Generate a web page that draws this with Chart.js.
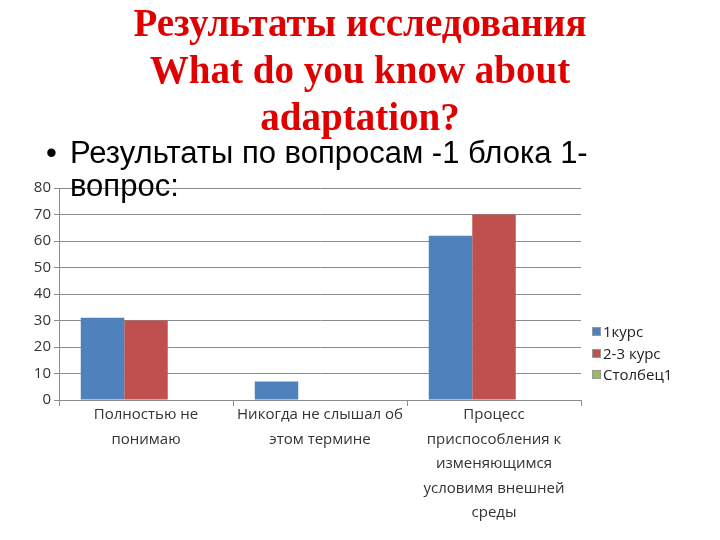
<!DOCTYPE html>
<html lang="ru">
<head>
    <meta charset="UTF-8">
    <title>Результаты исследования</title>
    <script src="https://cdn.jsdelivr.net/npm/chart.js"></script>
    <style>
        body { margin: 0; background: #fff; }
        .slide { position: relative; width: 720px; height: 540px; overflow: hidden; }
        #chart { position: absolute; left: 0; top: 0; }
        .title {
            position: absolute; left: 0; top: -1px; width: 720px; text-align: center;
            font-family: "Liberation Serif", serif; font-weight: bold; font-size: 39px;
            line-height: 47px; color: #e00000;
        }
        .bullet {
            position: absolute; left: 70px; top: 136px; width: 580px;
            font-family: "Liberation Sans", Arial, sans-serif; font-size: 31px; line-height: 33px; color: #000;
        }
        .bullet::before { content: "•"; position: absolute; left: -24px; }
        .legend {
            position: absolute; left: 592px; top: 321px;
            font-family: "Open Sans", sans-serif; font-size: 15px; color: #222; line-height: 21.5px;
        }
        .legend span.box {
            display: inline-block; width: 7px; height: 7px; margin-right: 2px; border: 1px solid #999;
            vertical-align: 1px;
        }
    </style>
</head>
<body>
<div class="slide">
    <canvas id="chart" width="720" height="540"></canvas>
    <div class="title">Результаты исследования<br>What do you know about<br>adaptation?</div>
    <div class="bullet">Результаты по вопросам -1 блока 1-вопрос:</div>
    <div class="legend" id="legend"></div>
</div>

<script>
    const categories = [
        ['Полностью не', 'понимаю'],
        ['Никогда не слышал об', 'этом термине'],
        ['Процесс', 'приспособления к', 'изменяющимся', 'условимя внешней', 'среды']
    ];
    const seriesNames = ['1курс', '2-3 курс', 'Столбец1'];
    const course1 = [31, 7, 62];
    const course23 = [30, 0, 70];
    const column1 = [null, null, null];
    const colors = ['#4f81bd', '#c0504d', '#9bbb59'];

    const values = [course1, course23, column1];

    const chart = new Chart(document.getElementById('chart'), {
        type: 'bar',
        data: {
            labels: categories,
            datasets: seriesNames.map((name, i) => ({
                label: name,
                data: values[i],
                backgroundColor: colors[i],
                categoryPercentage: 0.75,
                barPercentage: 1
            }))
        },
        options: {
            responsive: false,
            animation: false,
            layout: { padding: { left: 0, right: 139, top: 188, bottom: 0 } },
            plugins: { legend: { display: false }, tooltip: { enabled: false } },
            scales: {
                x: {
                    offset: true,
                    grid: { offset: true, drawOnChartArea: false, drawTicks: true, tickLength: 6, color: '#8c8c8c' },
                    border: { color: '#8c8c8c' },
                    ticks: {
                        maxRotation: 0, autoSkip: false, padding: -3, color: '#333',
                        font: { family: 'Open Sans', size: 15, lineHeight: 1.63 }
                    },
                    afterFit: (s) => { s.height = 140; }
                },
                y: {
                    min: 0, max: 80,
                    ticks: { stepSize: 10, color: '#333', padding: 3, font: { family: 'Open Sans', size: 15 } },
                    grid: { color: '#8c8c8c', tickLength: 5 },
                    border: { color: '#8c8c8c' },
                    afterFit: (s) => { s.width = 59; }
                }
            }
        }
    });

    const legend = document.getElementById('legend');
    seriesNames.forEach((name, i) => {
        const row = document.createElement('div');
        row.innerHTML = '<span class="box" style="background:' + colors[i] + '"></span>' + name;
        legend.appendChild(row);
    });
</script>
</body>
</html>
